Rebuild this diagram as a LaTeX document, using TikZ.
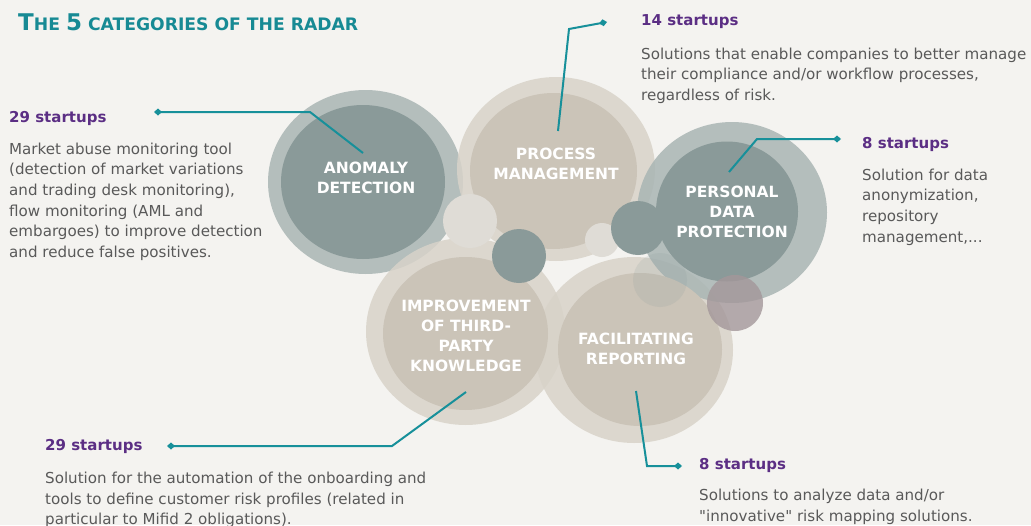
\documentclass[tikz,border=0pt]{standalone}
\usepackage{fontspec}
\setmainfont{DejaVu Sans}[Ligatures=TeXOff]
\usetikzlibrary{arrows.meta}
\definecolor{bg}{HTML}{F4F3F0}
\definecolor{greenout}{HTML}{A9B5B4}
\definecolor{greenin}{HTML}{8A9A99}
\definecolor{beigeout}{HTML}{D8D3C9}
\definecolor{beigein}{HTML}{CBC4B8}
\definecolor{lightsmall}{HTML}{DFDCD6}
\definecolor{mauve}{HTML}{A3979A}
\definecolor{tealc}{HTML}{17909A}
\definecolor{titlec}{HTML}{178A94}
\definecolor{purplec}{HTML}{5B2E84}
\definecolor{bodyc}{HTML}{595959}
\tikzset{
  outerring/.style={fill opacity=0.85},
  catlabel/.style={text=white, font=\bfseries\fontsize{15.5}{20}\selectfont, align=center, inner sep=0pt},
  counttext/.style={text=purplec, font=\bfseries\fontsize{15}{18}\selectfont, anchor=base west, inner sep=0pt},
  bodytext/.style={text=bodyc, anchor=base west, inner sep=0pt},
  conn/.style={draw=tealc, line width=2pt, line join=miter, -{Turned Square[length=8pt,width=7pt]}}
}
\newcommand{\bodypar}[1]{\fontsize{15.1}{20.7}\selectfont\begin{tabular}[t]{@{}l@{}}#1\end{tabular}}
\newcommand{\titlebig}[1]{{\fontsize{23}{24}\selectfont #1}}
\newcommand{\titlesmall}[1]{{\fontsize{17.2}{18}\selectfont #1}}
\begin{document}
\begin{tikzpicture}[x=1pt,y=-1pt]
\fill[bg] (0,0) rectangle (1031,525);
\useasboundingbox (0,0) rectangle (1031,525);

% outer rings
\fill[greenout, outerring] (365.5,182) ellipse[x radius=97.5pt, y radius=92pt];
\fill[beigeout, outerring] (556,169) ellipse[x radius=99pt, y radius=92pt];
\fill[beigeout, outerring] (465.5,331.5) ellipse[x radius=99.5pt, y radius=93.5pt];
\fill[beigeout, outerring] (634,350) ellipse[x radius=99pt, y radius=93pt];
\fill[greenout, outerring] (732,212.5) ellipse[x radius=95pt, y radius=90.5pt];
% inner circles
\fill[greenin] (363,182) ellipse[x radius=82pt, y radius=77pt];
\fill[beigein] (553.5,171) ellipse[x radius=83.5pt, y radius=78pt];
\fill[beigein] (465.5,333.5) ellipse[x radius=82.5pt, y radius=76.5pt];
\fill[beigein] (640,349.5) ellipse[x radius=82pt, y radius=76.5pt];
\fill[greenin] (727,211.5) ellipse[x radius=71pt, y radius=70pt];
% small circles
\fill[lightsmall] (470,221) circle[radius=27pt];
\fill[lightsmall] (602,240) circle[radius=17pt];
\fill[greenin, fill opacity=0.16] (660,280) circle[radius=27pt];
\fill[greenin] (519,256) circle[radius=27pt];
\fill[greenin] (638,228) circle[radius=27pt];
\fill[mauve, fill opacity=0.8] (735,303) circle[radius=28pt];

% title
\node[anchor=base west, inner sep=0pt, text=titlec, font=\bfseries] (title) at (18,30.5)
  {\titlebig{T}\titlesmall{HE }\titlebig{5}\titlesmall{\ CATEGORIES OF THE RADAR}};

% category labels
\node[catlabel] (anomaly) at (366,178) {ANOMALY\\DETECTION};
\node[catlabel] (process) at (556,164) {PROCESS\\MANAGEMENT};
\node[catlabel] (pdp) at (732,212) {PERSONAL\\DATA\\PROTECTION};
\node[catlabel] (improve) at (466,336) {IMPROVEMENT\\OF THIRD-\\PARTY\\KNOWLEDGE};
\node[catlabel] (facil) at (636,349) {FACILITATING\\REPORTING};

% text blocks
\node[counttext] (c1) at (9,122.7) {29 startups};
\node[bodytext] (b1) at (9,154) {\bodypar{Market abuse monitoring tool\\(detection of market variations\\and trading desk monitoring),\\flow monitoring (AML and\\embargoes) to improve detection\\and reduce false positives.}};

\node[counttext] (c2) at (641,25) {14 startups};
\node[bodytext] (b2) at (641,59) {\bodypar{Solutions that enable companies to better manage\\their compliance and/or workflow processes,\\regardless of risk.}};

\node[counttext] (c3) at (862,148) {8 startups};
\node[bodytext] (b3) at (862,180) {\bodypar{Solution for data\\anonymization,\\repository\\management,...}};

\node[counttext] (c4) at (45,450.7) {29 startups};
\node[bodytext] (b4) at (45,483.3) {\bodypar{Solution for the automation of the onboarding and\\tools to define customer risk profiles (related in\\particular to Mifid 2 obligations).}};

\node[counttext] (c5) at (699,469) {8 startups};
\node[bodytext] (b5) at (699,500.7) {\bodypar{Solutions to analyze data and/or\\"innovative" risk mapping solutions.}};

% connector coordinates
\coordinate (s1) at (363,153); \coordinate (k1) at (310,112); \coordinate (d1) at (154,112);
\coordinate (s2) at (558,131); \coordinate (k2) at (569,29);  \coordinate (d2) at (607,22);
\coordinate (s3) at (729,172); \coordinate (k3) at (757,139); \coordinate (d3) at (841,139);
\coordinate (s4) at (466,392); \coordinate (k4) at (392,446); \coordinate (d4) at (167,446);
\coordinate (s5) at (636,391); \coordinate (k5) at (647,466); \coordinate (d5) at (682,466);

\draw[conn] (s1) -- (k1) -- (d1);
\draw[conn] (s2) -- (k2) -- (d2);
\draw[conn] (s3) -- (k3) -- (d3);
\draw[conn] (s4) -- (k4) -- (d4);
\draw[conn] (s5) -- (k5) -- (d5);
\end{tikzpicture}
\end{document}
